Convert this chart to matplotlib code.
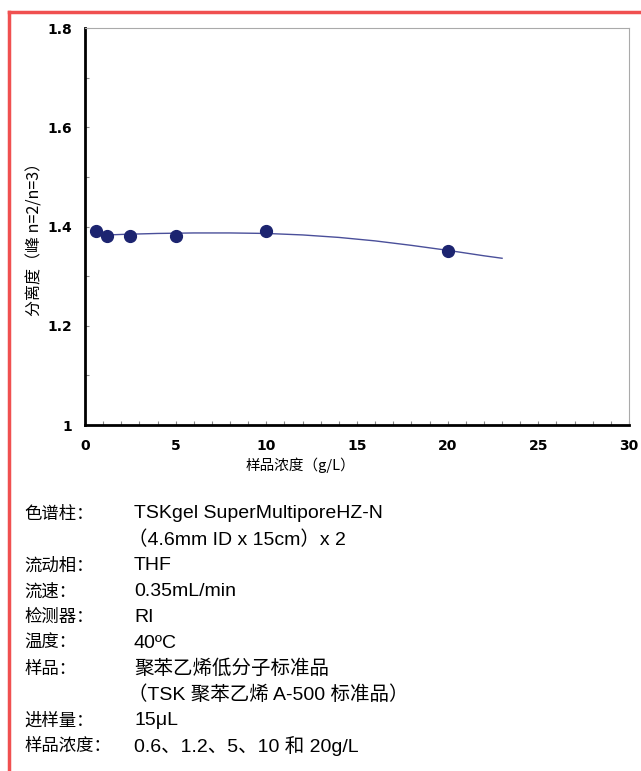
import numpy as np
import matplotlib.pyplot as plt
from matplotlib.lines import Line2D

plt.rcParams['font.family'] = ['Noto Sans CJK SC', 'DejaVu Sans']

# 分离度测定结果
conc = [0.6, 1.2, 2.5, 5, 10, 20]
resolution = [1.391, 1.381, 1.381, 1.380, 1.391, 1.350]

# 拟合曲线（读取的点）
fit_x = [0.6, 2, 4, 6, 8, 10, 12, 14, 16, 18, 20, 22, 23]
fit_y = [1.382, 1.384, 1.386, 1.387, 1.387, 1.386, 1.383, 1.378, 1.371, 1.362, 1.352, 1.341, 1.336]

conditions = [
    ("色谱柱：", "TSKgel SuperMultiporeHZ-N"),
    ("", "（4.6mm ID x 15cm）x 2"),
    ("流动相：", "THF"),
    ("流速：", "0.35mL/min"),
    ("检测器：", "RI"),
    ("温度：", "40ºC"),
    ("样品：", "聚苯乙烯低分子标准品"),
    ("", "（TSK 聚苯乙烯 A-500 标准品）"),
    ("进样量：", "15μL"),
    ("样品浓度：", "0.6、1.2、5、10 和 20g/L"),
]

W, H = 641, 771
fig = plt.figure(figsize=(W / 100, H / 100), dpi=100)
ax = fig.add_axes([85 / W, 1 - 425 / H, (629 - 85) / W, (425 - 28) / H])

ax.plot(fit_x, fit_y, color="#4a4f9a", linewidth=1.0, zorder=2)
ax.plot(conc, resolution, "o", color="#1c2470", markersize=8.5, zorder=3)

ax.set_xlim(0, 30)
ax.set_ylim(1, 1.8)
ax.set_xticks(range(0, 31, 5))
ax.set_xticks(range(0, 31), minor=True)
ax.set_yticks([1, 1.2, 1.4, 1.6, 1.8])
ax.set_yticklabels(["1", "1.2", "1.4", "1.6", "1.8"])
ax.set_yticks(np.arange(1, 1.81, 0.1), minor=True)
ax.tick_params(which="both", direction="in", length=3, width=0.8, color="#888888",
               labelsize=10)
ax.tick_params(axis="x", pad=10)
ax.tick_params(axis="y", pad=9)
for lab in ax.get_xticklabels() + ax.get_yticklabels():
    lab.set_family(["Liberation Sans Narrow", "DejaVu Sans"])
    lab.set_fontweight("bold")

ax.spines["left"].set_linewidth(2)
ax.spines["bottom"].set_linewidth(2)
ax.spines["top"].set_color("#aaaaaa")
ax.spines["right"].set_color("#aaaaaa")

fig.text(300 / W, 1 - 465 / H, "样品浓度（g/L）", ha="center", va="center", fontsize=10.5)
fig.text(35 / W, 1 - 235 / H, "分离度（峰 n=2/n=3）", ha="center", va="center",
         rotation=90, fontsize=11.5)

# 实验条件
y0 = 514
dy = 25.8
for i, (name, value) in enumerate(conditions):
    y = 1 - (y0 + i * dy) / H
    if name:
        fig.text(24 / W, y, name, ha="left", va="center", fontsize=12.5)
    xv = 134 if not value.startswith("（") else 128
    fig.text(xv / W, y, value, ha="left", va="center", fontsize=14,
             family=["Liberation Sans", "Noto Sans CJK SC"])

# 红色边框
fig.add_artist(Line2D([9 / W, 9 / W], [0, 1 - 12 / H], color="#f05050", linewidth=2.5,
                      transform=fig.transFigure))
fig.add_artist(Line2D([9 / W, 1], [1 - 12 / H, 1 - 12 / H], color="#f05050", linewidth=2.5,
                      transform=fig.transFigure))

fig.savefig("out.png", dpi=100)
